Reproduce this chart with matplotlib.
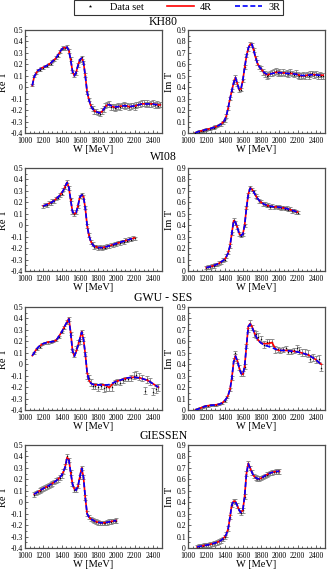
import matplotlib
matplotlib.use("Agg")
import matplotlib.pyplot as plt
from matplotlib.lines import Line2D
from matplotlib.ticker import MultipleLocator

plt.rcParams['font.family'] = ['Liberation Serif', 'DejaVu Serif']

# ---------------- KH80 ----------------
kh_W = [1080, 1100, 1120, 1140, 1160, 1180, 1200, 1220, 1240, 1260,
        1280, 1300, 1320, 1340, 1360, 1380, 1400, 1420, 1440, 1460,
        1480, 1500, 1520, 1540, 1560, 1580, 1600, 1620, 1640, 1660,
        1680, 1700, 1720, 1740, 1760, 1780, 1800, 1820, 1840, 1860,
        1880, 1900, 1920, 1940, 1960, 1980, 2000, 2020, 2040, 2060,
        2080, 2100, 2120, 2140, 2160, 2180, 2200, 2220, 2240, 2260,
        2280, 2300, 2320, 2340, 2360, 2380, 2400, 2420, 2440, 2460,
        2480]
kh_re_data = [0.02, 0.095, 0.125, 0.15, 0.15, 0.17, 0.17, 0.185, 0.185, 0.2,
              0.205, 0.23, 0.235, 0.26, 0.275, 0.31, 0.335, 0.345, 0.34, 0.355,
              0.315, 0.245, 0.135, 0.105, 0.125, 0.195, 0.235, 0.26, 0.215, 0.105,
              -0.045, -0.105, -0.165, -0.185, -0.21, -0.21, -0.225, -0.23, -0.21, -0.19,
              -0.16, -0.15, -0.145, -0.17, -0.175, -0.18, -0.17, -0.165, -0.17, -0.16,
              -0.155, -0.165, -0.16, -0.175, -0.165, -0.16, -0.17, -0.155, -0.15, -0.145,
              -0.14, -0.135, -0.15, -0.14, -0.15, -0.145, -0.14, -0.155, -0.145, -0.16,
              -0.15]
kh_re_err = [0.01, 0.01, 0.01, 0.01, 0.01, 0.01, 0.01, 0.01, 0.01, 0.01,
             0.01, 0.01, 0.01, 0.01, 0.012, 0.012, 0.012, 0.015, 0.015, 0.015,
             0.015, 0.015, 0.015, 0.015, 0.015, 0.015, 0.015, 0.015, 0.015, 0.015,
             0.015, 0.015, 0.015, 0.02, 0.02, 0.02, 0.02, 0.025, 0.025, 0.025,
             0.025, 0.025, 0.025, 0.025, 0.025, 0.025, 0.025, 0.025, 0.025, 0.025,
             0.025, 0.025, 0.025, 0.025, 0.025, 0.025, 0.025, 0.025, 0.025, 0.025,
             0.025, 0.025, 0.025, 0.025, 0.025, 0.025, 0.025, 0.025, 0.025, 0.025,
             0.025]
kh_re_4R = [0.015, 0.09, 0.12, 0.145, 0.155, 0.165, 0.175, 0.18, 0.19, 0.2,
            0.21, 0.225, 0.24, 0.255, 0.28, 0.305, 0.33, 0.345, 0.345, 0.35,
            0.32, 0.24, 0.14, 0.1, 0.13, 0.19, 0.24, 0.255, 0.22, 0.1,
            -0.04, -0.11, -0.16, -0.19, -0.205, -0.215, -0.22, -0.225, -0.215, -0.195,
            -0.17, -0.155, -0.15, -0.16, -0.17, -0.175, -0.175, -0.17, -0.165, -0.165,
            -0.16, -0.16, -0.165, -0.17, -0.17, -0.165, -0.165, -0.16, -0.155, -0.15,
            -0.145, -0.145, -0.145, -0.145, -0.145, -0.145, -0.145, -0.15, -0.15, -0.155,
            -0.155]
kh_re_3R = [0.015, 0.09, 0.12, 0.145, 0.155, 0.165, 0.175, 0.18, 0.19, 0.2,
            0.21, 0.225, 0.24, 0.255, 0.28, 0.305, 0.33, 0.345, 0.345, 0.35,
            0.32, 0.24, 0.14, 0.1, 0.13, 0.19, 0.24, 0.255, 0.22, 0.1,
            -0.04, -0.11, -0.16, -0.19, -0.205, -0.215, -0.22, -0.225, -0.215, -0.195,
            -0.17, -0.155, -0.152, -0.16, -0.168, -0.172, -0.172, -0.17, -0.166, -0.164,
            -0.162, -0.162, -0.165, -0.168, -0.168, -0.165, -0.163, -0.16, -0.155, -0.15,
            -0.147, -0.146, -0.146, -0.146, -0.146, -0.146, -0.147, -0.15, -0.152, -0.155,
            -0.156]
kh_im_data = [0.0, 0.01, 0.012, 0.02, 0.02, 0.028, 0.03, 0.036, 0.036, 0.045,
              0.047, 0.056, 0.06, 0.07, 0.076, 0.095, 0.11, 0.15, 0.22, 0.3,
              0.37, 0.445, 0.49, 0.43, 0.375, 0.38, 0.46, 0.575, 0.675, 0.735,
              0.78, 0.77, 0.725, 0.655, 0.615, 0.575, 0.565, 0.535, 0.515, 0.5,
              0.505, 0.52, 0.525, 0.535, 0.54, 0.525, 0.535, 0.52, 0.53, 0.52,
              0.525, 0.515, 0.53, 0.52, 0.51, 0.525, 0.505, 0.5, 0.495, 0.505,
              0.495, 0.51, 0.5, 0.515, 0.52, 0.505, 0.515, 0.5, 0.51, 0.5,
              0.5]
kh_im_err = kh_re_err
kh_im_4R = [0.0, 0.008, 0.013, 0.018, 0.022, 0.026, 0.03, 0.034, 0.038, 0.043,
            0.048, 0.054, 0.06, 0.068, 0.078, 0.092, 0.11, 0.15, 0.22, 0.3,
            0.37, 0.44, 0.485, 0.43, 0.38, 0.385, 0.46, 0.57, 0.67, 0.74,
            0.775, 0.775, 0.72, 0.66, 0.61, 0.58, 0.56, 0.54, 0.52, 0.51,
            0.51, 0.515, 0.52, 0.525, 0.53, 0.53, 0.53, 0.525, 0.525, 0.525,
            0.52, 0.52, 0.52, 0.52, 0.515, 0.515, 0.51, 0.505, 0.5, 0.5,
            0.5, 0.505, 0.505, 0.51, 0.51, 0.51, 0.51, 0.505, 0.505, 0.505,
            0.505]
kh_im_3R = [0.0, 0.008, 0.013, 0.018, 0.022, 0.026, 0.03, 0.034, 0.038, 0.043,
            0.048, 0.054, 0.06, 0.068, 0.078, 0.092, 0.11, 0.15, 0.22, 0.3,
            0.37, 0.44, 0.485, 0.43, 0.38, 0.385, 0.46, 0.57, 0.67, 0.74,
            0.775, 0.775, 0.72, 0.66, 0.61, 0.58, 0.56, 0.54, 0.525, 0.515,
            0.512, 0.515, 0.52, 0.523, 0.527, 0.528, 0.528, 0.526, 0.524, 0.523,
            0.521, 0.52, 0.519, 0.518, 0.516, 0.514, 0.51, 0.506, 0.503, 0.502,
            0.502, 0.504, 0.506, 0.508, 0.509, 0.509, 0.508, 0.506, 0.505, 0.504,
            0.504]

# ---------------- WI08 ----------------
wi_W = [1200, 1220, 1240, 1260, 1280, 1300, 1320, 1340, 1360, 1380,
        1400, 1420, 1440, 1460, 1480, 1500, 1520, 1540, 1560, 1580,
        1600, 1620, 1640, 1660, 1680, 1700, 1720, 1740, 1760, 1780,
        1800, 1820, 1840, 1860, 1880, 1900, 1920, 1940, 1960, 1980,
        2000, 2020, 2040, 2060, 2080, 2100, 2120, 2140, 2160, 2180,
        2200]
wi_re_data = [0.165, 0.18, 0.175, 0.195, 0.19, 0.21, 0.21, 0.235, 0.24, 0.265,
              0.275, 0.31, 0.335, 0.38, 0.325, 0.225, 0.115, 0.095, 0.115, 0.165,
              0.25, 0.27, 0.245, 0.155, -0.005, -0.085, -0.145, -0.165, -0.19, -0.185,
              -0.2, -0.19, -0.2, -0.19, -0.195, -0.18, -0.185, -0.17, -0.175, -0.16,
              -0.165, -0.15, -0.155, -0.14, -0.145, -0.13, -0.135, -0.12, -0.125, -0.11,
              -0.115]
wi_re_err = 0.015
wi_re_4R = [0.17, 0.175, 0.18, 0.19, 0.195, 0.205, 0.215, 0.23, 0.245, 0.26,
            0.28, 0.305, 0.34, 0.375, 0.33, 0.22, 0.12, 0.1, 0.11, 0.17,
            0.245, 0.265, 0.25, 0.15, 0.0, -0.09, -0.14, -0.17, -0.185, -0.19,
            -0.195, -0.195, -0.195, -0.195, -0.19, -0.185, -0.18, -0.175, -0.17, -0.165,
            -0.16, -0.155, -0.15, -0.145, -0.14, -0.135, -0.13, -0.125, -0.12, -0.115,
            -0.11]
wi_re_3R = [0.168, 0.174, 0.18, 0.188, 0.195, 0.204, 0.215, 0.229, 0.244, 0.26,
            0.28, 0.305, 0.34, 0.372, 0.33, 0.22, 0.12, 0.1, 0.11, 0.17,
            0.245, 0.265, 0.25, 0.15, 0.0, -0.09, -0.14, -0.17, -0.185, -0.19,
            -0.195, -0.196, -0.196, -0.195, -0.19, -0.185, -0.18, -0.175, -0.17, -0.165,
            -0.16, -0.155, -0.15, -0.145, -0.14, -0.135, -0.13, -0.125, -0.12, -0.115,
            -0.11]
wi_im_data = [0.03, 0.035, 0.035, 0.045, 0.045, 0.055, 0.058, 0.07, 0.075, 0.095,
              0.1, 0.13, 0.16, 0.22, 0.33, 0.445, 0.42, 0.385, 0.325, 0.31,
              0.32, 0.4, 0.555, 0.665, 0.73, 0.71, 0.695, 0.655, 0.64, 0.61,
              0.605, 0.585, 0.585, 0.57, 0.575, 0.56, 0.57, 0.555, 0.565, 0.555,
              0.56, 0.55, 0.555, 0.545, 0.55, 0.535, 0.54, 0.525, 0.53, 0.515,
              0.51]
wi_im_err = 0.015
wi_im_4R = [0.03, 0.033, 0.037, 0.042, 0.047, 0.053, 0.06, 0.068, 0.078, 0.09,
            0.1, 0.125, 0.16, 0.22, 0.33, 0.44, 0.425, 0.38, 0.33, 0.31,
            0.32, 0.4, 0.55, 0.67, 0.725, 0.715, 0.69, 0.66, 0.635, 0.615,
            0.6, 0.59, 0.58, 0.575, 0.57, 0.565, 0.565, 0.56, 0.56, 0.56,
            0.555, 0.555, 0.55, 0.55, 0.545, 0.54, 0.535, 0.53, 0.525, 0.52,
            0.515]
wi_im_3R = [0.03, 0.033, 0.037, 0.042, 0.047, 0.053, 0.06, 0.068, 0.078, 0.09,
            0.1, 0.125, 0.16, 0.22, 0.33, 0.44, 0.425, 0.38, 0.33, 0.31,
            0.32, 0.4, 0.55, 0.67, 0.722, 0.713, 0.69, 0.66, 0.636, 0.616,
            0.601, 0.59, 0.581, 0.575, 0.57, 0.566, 0.564, 0.561, 0.56, 0.559,
            0.557, 0.555, 0.551, 0.549, 0.545, 0.54, 0.535, 0.53, 0.525, 0.52,
            0.515]

# ---------------- GWU - SES ----------------
gw_W_data = [1100, 1130, 1160, 1190, 1220, 1250, 1280, 1310, 1340, 1370,
             1400, 1430, 1460, 1480, 1500, 1520, 1540, 1560, 1580, 1600,
             1620, 1640, 1660, 1680, 1700, 1720, 1740, 1770, 1800, 1830,
             1860, 1890, 1920, 1950, 1980, 2010, 2040, 2070, 2100, 2130,
             2160, 2190, 2220, 2250, 2280, 2310, 2340, 2370, 2400, 2430,
             2460]
gw_re_data = [0.1, 0.135, 0.15, 0.175, 0.185, 0.19, 0.195, 0.2, 0.21, 0.24,
              0.28, 0.32, 0.37, 0.395, 0.27, 0.12, 0.08, 0.14, 0.19, 0.2,
              0.28, 0.22, 0.09, -0.1, -0.12, -0.16, -0.19, -0.19, -0.2, -0.19,
              -0.21, -0.2, -0.2, -0.2, -0.16, -0.15, -0.16, -0.14, -0.13, -0.13,
              -0.12, -0.1, -0.09, -0.11, -0.12, -0.23, -0.13, -0.15, -0.24, -0.22,
              -0.2]
gw_err = [0.01, 0.01, 0.01, 0.01, 0.01, 0.01, 0.01, 0.01, 0.01, 0.01,
          0.01, 0.01, 0.015, 0.015, 0.015, 0.015, 0.015, 0.02, 0.02, 0.02,
          0.02, 0.02, 0.02, 0.025, 0.025, 0.03, 0.03, 0.03, 0.03, 0.03,
          0.03, 0.03, 0.03, 0.03, 0.02, 0.02, 0.02, 0.02, 0.02, 0.02,
          0.025, 0.03, 0.03, 0.03, 0.03, 0.03, 0.03, 0.03, 0.03, 0.03,
          0.03]
gw_im_data = [0.005, 0.015, 0.024, 0.032, 0.038, 0.041, 0.043, 0.046, 0.05, 0.06,
              0.08, 0.115, 0.18, 0.28, 0.44, 0.5, 0.43, 0.37, 0.32, 0.32,
              0.38, 0.56, 0.7, 0.76, 0.72, 0.67, 0.66, 0.64, 0.62, 0.57,
              0.59, 0.59, 0.59, 0.53, 0.53, 0.52, 0.53, 0.54, 0.51, 0.51,
              0.52, 0.54, 0.52, 0.5, 0.5, 0.49, 0.45, 0.46, 0.44, 0.45,
              0.37]
gw_W = [1080, 1100, 1120, 1140, 1160, 1180, 1200, 1220, 1240, 1260,
        1280, 1300, 1320, 1340, 1360, 1380, 1400, 1420, 1440, 1460,
        1480, 1500, 1520, 1540, 1560, 1580, 1600, 1620, 1640, 1660,
        1680, 1700, 1720, 1740, 1760, 1780, 1800, 1820, 1840, 1860,
        1880, 1900, 1920, 1940, 1960, 1980, 2000, 2020, 2040, 2060,
        2080, 2100, 2120, 2140, 2160, 2180, 2200, 2220, 2240, 2260,
        2280, 2300, 2320, 2340, 2360, 2380, 2400, 2420, 2440, 2460]
gw_re_4R = [0.075, 0.1, 0.125, 0.145, 0.16, 0.17, 0.18, 0.185, 0.19, 0.195,
            0.195, 0.198, 0.2, 0.21, 0.23, 0.255, 0.28, 0.31, 0.34, 0.37,
            0.4, 0.28, 0.12, 0.07, 0.11, 0.16, 0.22, 0.285, 0.22, 0.09,
            -0.07, -0.14, -0.165, -0.175, -0.18, -0.18, -0.18, -0.18, -0.18, -0.18,
            -0.185, -0.19, -0.205, -0.19, -0.17, -0.155, -0.15, -0.145, -0.14, -0.135,
            -0.13, -0.125, -0.12, -0.118, -0.115, -0.115, -0.115, -0.115, -0.118, -0.12,
            -0.125, -0.13, -0.135, -0.14, -0.15, -0.16, -0.17, -0.18, -0.19, -0.2]
gw_re_3R = [0.075, 0.1, 0.125, 0.145, 0.16, 0.17, 0.18, 0.185, 0.19, 0.195,
            0.195, 0.198, 0.2, 0.21, 0.23, 0.255, 0.28, 0.31, 0.34, 0.37,
            0.395, 0.27, 0.12, 0.07, 0.11, 0.16, 0.22, 0.28, 0.22, 0.09,
            -0.07, -0.14, -0.165, -0.175, -0.18, -0.18, -0.18, -0.181, -0.182, -0.182,
            -0.182, -0.181, -0.178, -0.172, -0.165, -0.158, -0.15, -0.145, -0.14, -0.135,
            -0.13, -0.125, -0.12, -0.118, -0.116, -0.115, -0.115, -0.116, -0.118, -0.121,
            -0.125, -0.13, -0.135, -0.142, -0.15, -0.16, -0.17, -0.18, -0.19, -0.2]
gw_im_4R = [0.0, 0.005, 0.012, 0.018, 0.024, 0.03, 0.035, 0.038, 0.04, 0.042,
            0.043, 0.045, 0.047, 0.05, 0.056, 0.066, 0.08, 0.1, 0.13, 0.18,
            0.28, 0.42, 0.475, 0.43, 0.37, 0.32, 0.31, 0.38, 0.56, 0.73,
            0.755, 0.73, 0.69, 0.65, 0.62, 0.6, 0.585, 0.58, 0.58, 0.58,
            0.58, 0.585, 0.59, 0.56, 0.53, 0.525, 0.52, 0.52, 0.52, 0.52,
            0.52, 0.518, 0.515, 0.515, 0.512, 0.51, 0.508, 0.505, 0.5, 0.495,
            0.49, 0.485, 0.48, 0.47, 0.46, 0.45, 0.44, 0.425, 0.41, 0.4]
gw_im_3R = [0.0, 0.005, 0.012, 0.018, 0.024, 0.03, 0.035, 0.038, 0.04, 0.042,
            0.043, 0.045, 0.047, 0.05, 0.056, 0.066, 0.08, 0.1, 0.13, 0.18,
            0.28, 0.42, 0.47, 0.43, 0.37, 0.32, 0.31, 0.38, 0.56, 0.73,
            0.75, 0.725, 0.685, 0.65, 0.62, 0.6, 0.585, 0.575, 0.568, 0.562,
            0.556, 0.55, 0.545, 0.538, 0.532, 0.527, 0.523, 0.521, 0.52, 0.52,
            0.519, 0.517, 0.515, 0.514, 0.512, 0.51, 0.507, 0.504, 0.5, 0.495,
            0.49, 0.485, 0.478, 0.47, 0.46, 0.45, 0.44, 0.425, 0.41, 0.4]

# ---------------- GIESSEN ----------------
gi_W = [1100, 1120, 1140, 1160, 1180, 1200, 1220, 1240, 1260, 1280,
        1300, 1320, 1340, 1360, 1380, 1400, 1420, 1440, 1460, 1480,
        1500, 1520, 1540, 1560, 1580, 1600, 1620, 1640, 1660, 1680,
        1700, 1720, 1740, 1760, 1780, 1800, 1820, 1840, 1860, 1880,
        1900, 1920, 1940, 1960, 1980, 2000]
gi_re_data = [0.065, 0.08, 0.09, 0.1, 0.11, 0.12, 0.13, 0.135, 0.145, 0.155,
              0.165, 0.175, 0.19, 0.2, 0.215, 0.235, 0.27, 0.31, 0.4, 0.37,
              0.26, 0.16, 0.11, 0.105, 0.14, 0.22, 0.3, 0.22, 0.04, -0.1,
              -0.13, -0.145, -0.155, -0.165, -0.17, -0.175, -0.18, -0.18, -0.18, -0.18,
              -0.175, -0.17, -0.17, -0.165, -0.165, -0.16]
gi_re_err = 0.02
gi_re_4R = [0.07, 0.08, 0.09, 0.1, 0.11, 0.12, 0.128, 0.136, 0.145, 0.155,
            0.165, 0.175, 0.187, 0.2, 0.215, 0.235, 0.265, 0.31, 0.39, 0.375,
            0.26, 0.16, 0.115, 0.105, 0.14, 0.22, 0.3, 0.22, 0.04, -0.1,
            -0.13, -0.145, -0.155, -0.163, -0.17, -0.175, -0.178, -0.18, -0.18, -0.178,
            -0.175, -0.172, -0.168, -0.165, -0.163, -0.16]
gi_re_3R = [0.07, 0.08, 0.09, 0.1, 0.11, 0.12, 0.128, 0.136, 0.145, 0.155,
            0.165, 0.175, 0.187, 0.2, 0.215, 0.235, 0.265, 0.31, 0.385, 0.37,
            0.26, 0.16, 0.115, 0.105, 0.14, 0.22, 0.295, 0.22, 0.04, -0.1,
            -0.13, -0.145, -0.155, -0.163, -0.17, -0.175, -0.178, -0.18, -0.18, -0.178,
            -0.175, -0.172, -0.168, -0.165, -0.163, -0.16]
gi_im_data = [0.01, 0.013, 0.016, 0.019, 0.022, 0.025, 0.028, 0.032, 0.036, 0.04,
              0.045, 0.05, 0.057, 0.066, 0.078, 0.095, 0.12, 0.17, 0.27, 0.38,
              0.41, 0.405, 0.37, 0.33, 0.31, 0.33, 0.45, 0.65, 0.74, 0.7,
              0.66, 0.63, 0.615, 0.605, 0.605, 0.61, 0.62, 0.63, 0.64, 0.648,
              0.655, 0.66, 0.665, 0.668, 0.67, 0.67]
gi_im_err = 0.02
gi_im_4R = [0.01, 0.013, 0.016, 0.019, 0.022, 0.025, 0.028, 0.032, 0.036, 0.04,
            0.045, 0.05, 0.057, 0.066, 0.078, 0.095, 0.12, 0.17, 0.27, 0.38,
            0.41, 0.405, 0.37, 0.33, 0.31, 0.33, 0.45, 0.65, 0.74, 0.7,
            0.66, 0.63, 0.615, 0.605, 0.605, 0.61, 0.62, 0.63, 0.64, 0.648,
            0.655, 0.66, 0.665, 0.668, 0.67, 0.67]
gi_im_3R = [0.01, 0.013, 0.016, 0.019, 0.022, 0.025, 0.028, 0.032, 0.036, 0.04,
            0.045, 0.05, 0.057, 0.066, 0.078, 0.095, 0.12, 0.17, 0.27, 0.38,
            0.408, 0.403, 0.37, 0.33, 0.31, 0.33, 0.45, 0.65, 0.735, 0.7,
            0.66, 0.63, 0.615, 0.606, 0.605, 0.61, 0.62, 0.63, 0.64, 0.648,
            0.655, 0.66, 0.665, 0.668, 0.67, 0.67]

titles = ["KH80", "WI08", "GWU - SES", "GIESSEN"]

rows = [
    dict(Wd=kh_W, Wm=kh_W, re=kh_re_data, re_e=kh_re_err, re4=kh_re_4R, re3=kh_re_3R,
         im=kh_im_data, im_e=kh_im_err, im4=kh_im_4R, im3=kh_im_3R),
    dict(Wd=wi_W, Wm=wi_W, re=wi_re_data, re_e=wi_re_err, re4=wi_re_4R, re3=wi_re_3R,
         im=wi_im_data, im_e=wi_im_err, im4=wi_im_4R, im3=wi_im_3R),
    dict(Wd=gw_W_data, Wm=gw_W, re=gw_re_data, re_e=gw_err, re4=gw_re_4R, re3=gw_re_3R,
         im=gw_im_data, im_e=gw_err, im4=gw_im_4R, im3=gw_im_3R),
    dict(Wd=gi_W, Wm=gi_W, re=gi_re_data, re_e=gi_re_err, re4=gi_re_4R, re3=gi_re_3R,
         im=gi_im_data, im_e=gi_im_err, im4=gi_im_4R, im3=gi_im_3R),
]

W_PX, H_PX = 327, 572
fig = plt.figure(figsize=(W_PX / 100, H_PX / 100), dpi=100)

col_left = [25, 188]
ax_w = 137
row_top = [30, 168, 307, 445]
ax_h = 103
title_y = [22, 157, 298, 436]

err_color = '0.5'
ylims = [(-0.4, 0.5), (0.0, 0.9)]
ylabels = ["Re T", "Im T"]

def style_axes(ax, ylim):
    ax.set_xlim(1000, 2500)
    ax.set_ylim(*ylim)
    ax.xaxis.set_major_locator(MultipleLocator(200))
    ax.xaxis.set_minor_locator(MultipleLocator(50))
    ax.yaxis.set_major_locator(MultipleLocator(0.1))
    ax.yaxis.set_minor_locator(MultipleLocator(0.05))
    ax.tick_params(which='both', direction='in', labelsize=5.6,
                   width=0.6, color='0.3')
    ax.tick_params(axis='x', pad=2.9)
    ax.tick_params(axis='y', pad=1.5)
    ax.tick_params(which='major', length=2.5)
    ax.tick_params(which='minor', length=1.3)
    for s in ax.spines.values():
        s.set_linewidth(0.9)
        s.set_color('0.3')
    ax.yaxis.set_major_formatter(plt.FuncFormatter(
        lambda v, p: ('%g' % round(v, 2))))

for r, d in enumerate(rows):
    for c in range(2):
        left = col_left[c] / W_PX
        bottom = 1 - (row_top[r] + ax_h) / H_PX
        ax = fig.add_axes([left, bottom, ax_w / W_PX, ax_h / H_PX])
        if c == 0:
            yd, ye, y4, y3 = d['re'], d['re_e'], d['re4'], d['re3']
        else:
            yd, ye, y4, y3 = d['im'], d['im_e'], d['im4'], d['im3']
        ax.errorbar(d['Wd'], yd, yerr=ye, fmt='none', ecolor=err_color,
                    elinewidth=0.6, capsize=1.3, capthick=0.6, zorder=2)
        ax.plot(d['Wd'], yd, linestyle='none', marker='*', markersize=1.8,
                markeredgewidth=0, color='black', zorder=3)
        ax.plot(d['Wm'], y4, color='#ff0000', lw=1.2, zorder=4)
        ax.plot(d['Wm'], y3, color='#0000ff', lw=1.2, dashes=(3.0, 1.6), zorder=5)
        style_axes(ax, ylims[c])
        ax.set_ylabel(ylabels[c], fontsize=7.5, labelpad=2)
        ax.set_xlabel("W [MeV]", fontsize=7.5, labelpad=0)
    fig.text(0.5, 1 - title_y[r] / H_PX, titles[r], ha='center', va='center',
             fontsize=8.5)

handles = [
    Line2D([], [], linestyle='none', marker='*', markersize=2.5,
           markeredgewidth=0, color='black'),
    Line2D([], [], color='#ff0000', lw=1.2),
    Line2D([], [], color='#0000ff', lw=1.2, dashes=(3.0, 1.6)),
]
leg = fig.legend(handles, ["Data set", "4R", "3R"], loc='upper center',
                 bbox_to_anchor=(178.5 / W_PX, 1.0), ncol=3, fontsize=7.5,
                 frameon=True, fancybox=False, edgecolor='black',
                 handlelength=2.6, handletextpad=0.6, columnspacing=2.2,
                 borderpad=0.25, borderaxespad=0.0)
leg.get_frame().set_linewidth(0.8)

fig.savefig("out.png", dpi=100)
